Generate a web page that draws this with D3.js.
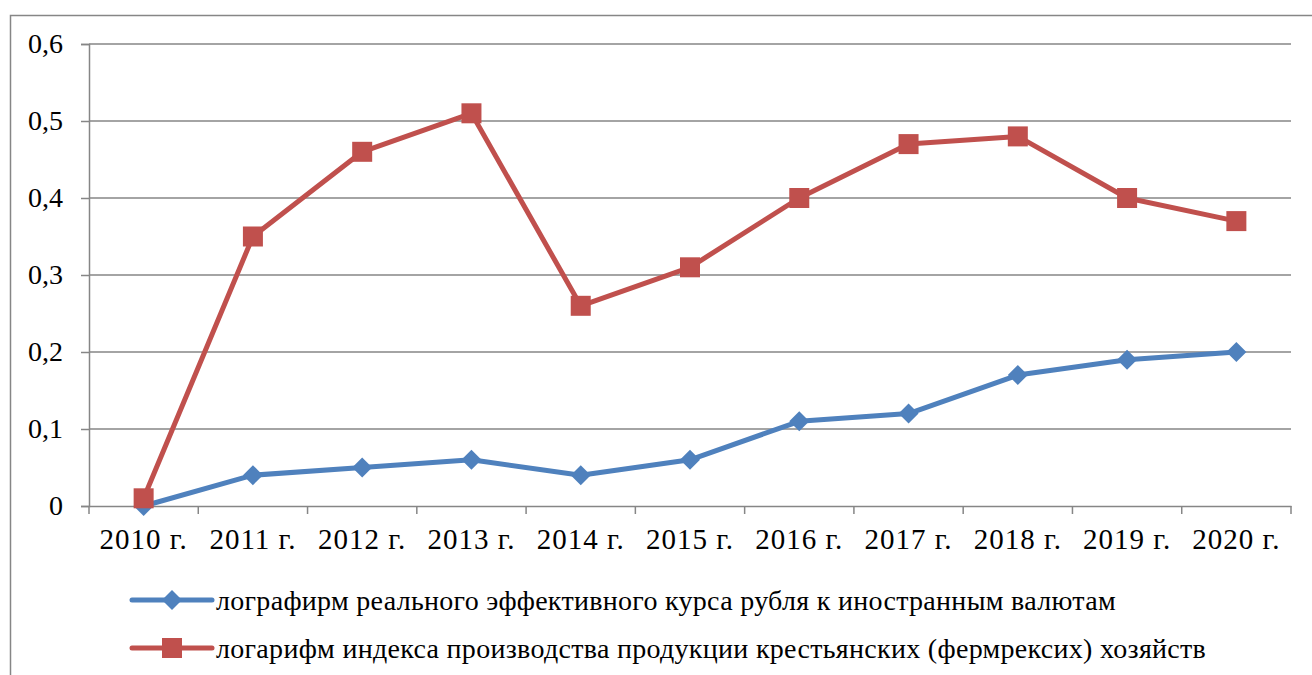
<!DOCTYPE html>
<html><head><meta charset="utf-8">
<script src="https://d3js.org/d3.v7.min.js"></script>
<style>body{margin:0;background:#fff}svg{display:block}
svg text{font-family:"Liberation Serif","Times New Roman",Times,"DejaVu Serif",serif;}</style>
</head><body>
<svg id="c" width="1312" height="675"></svg>
<script>
const categories = ["2010 г.","2011 г.","2012 г.","2013 г.","2014 г.","2015 г.","2016 г.","2017 г.","2018 г.","2019 г.","2020 г."];
const blueValues = [0,0.04,0.05,0.06,0.04,0.06,0.11,0.12,0.17,0.19,0.2];
const redValues = [0.01,0.35,0.46,0.51,0.26,0.31,0.4,0.47,0.48,0.4,0.37];
const yTicks = [0,0.1,0.2,0.3,0.4,0.5,0.6];
const yTickLabels = ["0","0,1","0,2","0,3","0,4","0,5","0,6"];
const seriesNames = ["лографирм реального эффективного курса рубля к иностранным валютам","логарифм индекса производства продукции крестьянских (фермрексих) хозяйств"];

(function(){
const svg = d3.select("#c");
const gridColor = "#868686";
const blue = "#4F81BD", red = "#C0504D";

// outer border
svg.append("rect").attr("x",10.5).attr("y",15.5).attr("width",1320).attr("height",700)
  .attr("fill","none").attr("stroke",gridColor).attr("stroke-width",1.5);

const pl = 89, pr = 1291, pt = 44, pb = 506;
const x = d3.scaleBand().domain(categories).range([pl,pr]);
const y = d3.scaleLinear().domain([0,0.6]).range([pb,pt]);

// gridlines
svg.append("g").selectAll("line").data(yTicks.slice(1)).join("line")
  .attr("x1",pl).attr("x2",pr).attr("y1",d=>y(d)).attr("y2",d=>y(d))
  .attr("stroke",gridColor).attr("stroke-width",1.5);

// y axis
const yAxis = svg.append("g").attr("transform",`translate(${pl},0)`)
  .call(d3.axisLeft(y).tickValues(yTicks).tickFormat((d,i)=>yTickLabels[i]).tickSize(8).tickPadding(18));
yAxis.attr("font-family",null);
yAxis.select(".domain").attr("stroke",gridColor).attr("stroke-width",1.5);
yAxis.selectAll(".tick line").attr("stroke",gridColor).attr("stroke-width",1.5);
yAxis.selectAll("text").attr("font-size",28).attr("fill","#000");

// x axis
const xAxis = svg.append("g").attr("transform",`translate(0,${pb})`)
  .call(d3.axisBottom(x).tickSize(0).tickPadding(22));
xAxis.attr("font-family",null);
xAxis.select(".domain").attr("stroke",gridColor).attr("stroke-width",1.5);
xAxis.selectAll("text").attr("font-size",29).attr("letter-spacing",1).attr("fill","#000");
// x tick marks at band boundaries
const bounds = categories.map(c=>x(c)).concat([pr]);
svg.append("g").selectAll("line").data(bounds).join("line")
  .attr("x1",d=>d).attr("x2",d=>d).attr("y1",pb).attr("y2",pb+8)
  .attr("stroke",gridColor).attr("stroke-width",1.5);

const cx = c => x(c) + x.bandwidth()/2;
const line = d3.line().x((d,i)=>cx(categories[i])).y(d=>y(d));

function diamond(g, px, py, s){
  g.append("path").attr("d",`M${px},${py-s}L${px+s},${py}L${px},${py+s}L${px-s},${py}Z`).attr("fill",blue);
}
function square(g, px, py, s){
  g.append("rect").attr("x",px-s).attr("y",py-s).attr("width",2*s).attr("height",2*s).attr("fill",red);
}

// blue series
svg.append("path").datum(blueValues).attr("d",line).attr("fill","none")
  .attr("stroke",blue).attr("stroke-width",5).attr("stroke-linejoin","round");
const gb = svg.append("g");
blueValues.forEach((v,i)=>diamond(gb, cx(categories[i]), y(v), 10));

// red series
svg.append("path").datum(redValues).attr("d",line).attr("fill","none")
  .attr("stroke",red).attr("stroke-width",5).attr("stroke-linejoin","round");
const gr = svg.append("g");
redValues.forEach((v,i)=>square(gr, cx(categories[i]), y(v), 10));

// legend
const legY = [600, 648];
const colors = [blue, red];
seriesNames.forEach((name,i)=>{
  const g = svg.append("g");
  g.append("line").attr("x1",132).attr("x2",212).attr("y1",legY[i]).attr("y2",legY[i])
    .attr("stroke",colors[i]).attr("stroke-width",5).attr("stroke-linecap","round");
  if(i===0) diamond(g,172,legY[i],10); else square(g,172,legY[i],10);
  g.append("text").attr("x",216).attr("y",legY[i]).attr("dy","0.35em")
    .attr("font-size",28).attr("letter-spacing",0.3).attr("fill","#000").text(name);
});
})();
</script>
</body></html>
